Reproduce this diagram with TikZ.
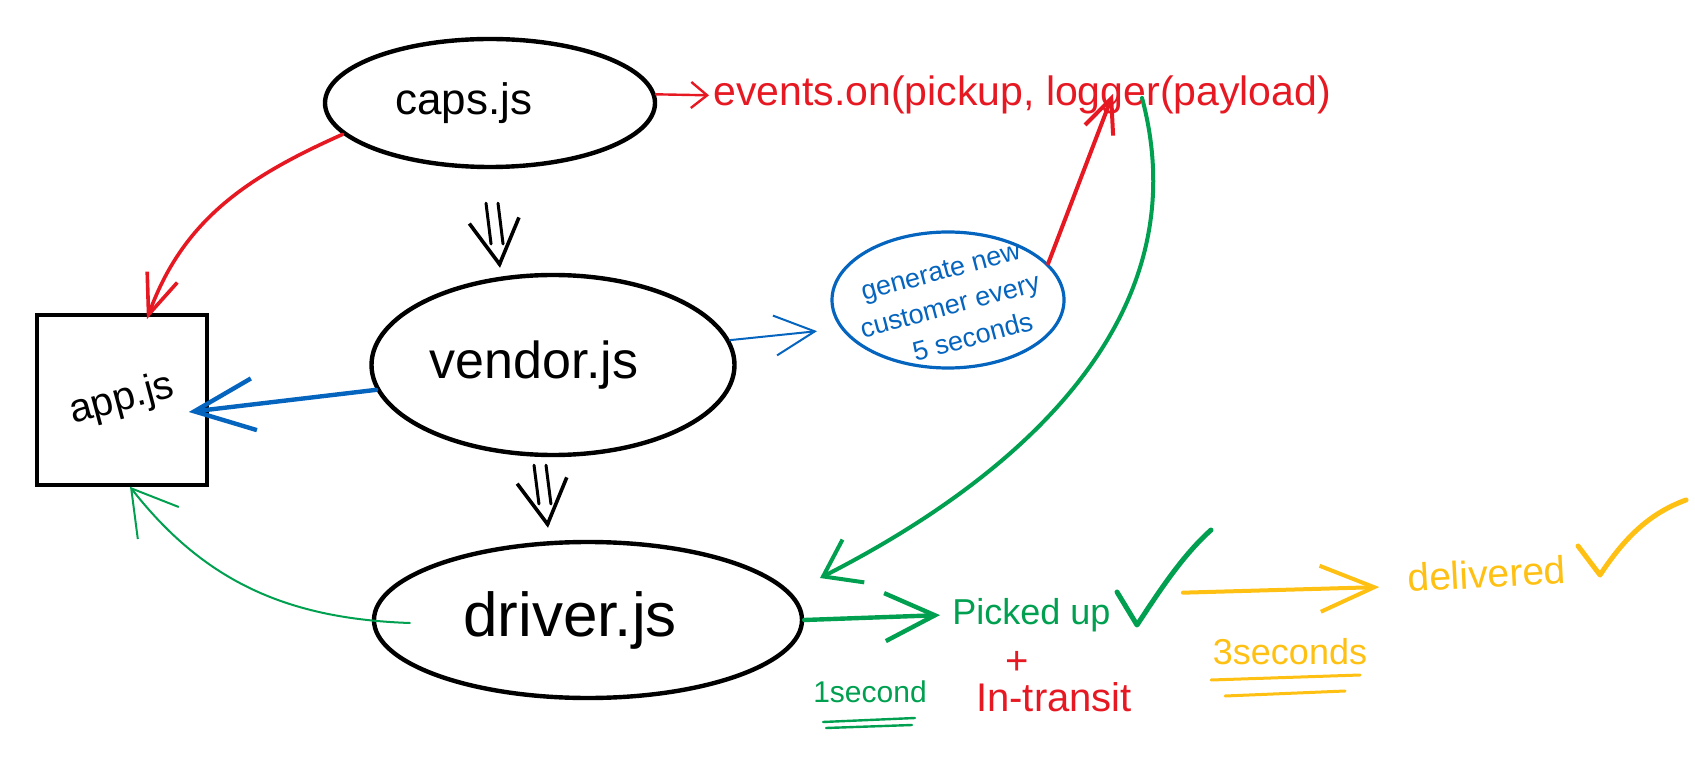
\documentclass[tikz,border=0pt]{standalone}
\usepackage{fontspec}
\setmainfont{Liberation Sans}
\usetikzlibrary{shapes.geometric,arrows.meta,calc}
\definecolor{hred}{RGB}{230,25,35}
\definecolor{hblue}{RGB}{5,100,190}
\definecolor{hgreen}{RGB}{0,160,80}
\definecolor{hyellow}{RGB}{255,192,20}
\begin{document}
\begin{tikzpicture}[x=0.5pt,y=-0.5pt,
  every node/.style={inner sep=0pt},
  proc/.style={ellipse, draw=black, line width=2.2pt, inner sep=0pt},
  pen/.style={line cap=round, line join=round},
  shaft/.style={pen, black, line width=1.5pt, shorten >=12pt},
  headonly/.style={pen, black, line width=1.8pt, -{Straight Barb[length=22pt,width=25pt]}},
]
\useasboundingbox (0,0) rectangle (1695,769);

\node[proc, minimum width=165pt, minimum height=64pt, font=\fontsize{22}{26}\selectfont] (caps) at (490,103) {caps.js\hspace*{26pt}};
\node[proc, minimum width=181.5pt, minimum height=90pt, font=\fontsize{26}{30}\selectfont] (vendor) at (553,365) {vendor.js\hspace*{19pt}};
\node[proc, minimum width=214pt, minimum height=78pt, font=\fontsize{31}{35}\selectfont] (driver) at (588,620) {driver.js\hspace*{18pt}};
\node[draw=black, line width=1.8pt, minimum size=85pt, font=\fontsize{20}{24}\selectfont] (app) at (122,400) {\rotatebox{15}{app.js}};
\node[ellipse, draw=hblue, line width=1.6pt, minimum width=116pt, minimum height=68pt] (blue) at (948,300) {};
\node[text=hblue, font=\fontsize{13.5}{18}\selectfont, align=center, rotate=15] (bluetext) at (950,306) {generate new\\customer every\\\hspace*{14pt}5 seconds};

\node[text=hred, font=\fontsize{20.5}{24}\selectfont, anchor=base west] (events) at (713,106) {events.on(pickup, logger(payload)};
\node[text=hgreen, font=\fontsize{18}{22}\selectfont, anchor=base west] (picked) at (952,624) {Picked up};
\node[text=hred, font=\fontsize{20}{24}\selectfont] (plus) at (1017,663) {+};
\node[text=hred, font=\fontsize{20}{24}\selectfont] (transit) at (1054,697) {In-transit};
\node[text=hgreen, font=\fontsize{15}{18}\selectfont] (onesec) at (870,692) {1second};
\node[text=hyellow, font=\fontsize{18}{20}\selectfont] (threesec) at (1290,652) {3seconds};
\node[text=hyellow, font=\fontsize{19.5}{22}\selectfont, anchor=base west, rotate=3] (delivered) at (1408,592) {delivered};

% connectors
\draw[pen, hred, line width=1.8pt, -{Straight Barb[length=20pt,width=16pt]}] (caps.192) to[out=204,in=70] ([yshift=-3pt]app.74);
\draw[pen, hblue, line width=2.2pt, -{Straight Barb[length=30pt,width=26pt]}] (vendor.188) -- ([xshift=-10pt,yshift=-6pt]app.east);
\draw[pen, hgreen, line width=1pt, -{Straight Barb[length=22pt,width=26pt]}] ([xshift=19pt,yshift=-1.5pt]driver.west) to[out=178,in=-52] ([xshift=4pt]app.south);

\coordinate (d1s) at ([xshift=1pt,yshift=-17pt]caps.south);
\coordinate (d1e) at ([xshift=-26.5pt,yshift=2.5pt]vendor.north);
\draw[shaft] ([xshift=-3pt]d1s) -- ([xshift=-3pt]d1e);
\draw[shaft] ([xshift=3pt]d1s) -- ([xshift=3pt]d1e);
\draw[headonly] ($(d1s)!0.95!(d1e)$) -- (d1e);

\coordinate (d2s) at ([xshift=-6.5pt,yshift=-4pt]vendor.south);
\coordinate (d2e) at ([xshift=-20pt,yshift=6pt]driver.north);
\draw[shaft] ([xshift=-3pt]d2s) -- ([xshift=-3pt]d2e);
\draw[shaft] ([xshift=3pt]d2s) -- ([xshift=3pt]d2e);
\draw[headonly] ($(d2s)!0.95!(d2e)$) -- (d2e);

\draw[pen, hred, line width=1.2pt, shorten >=2pt, -{Straight Barb[length=8pt,width=13pt]}] (caps.3) -- (events.west);
\draw[pen, hblue, line width=1pt, shorten >=12pt, -{Straight Barb[length=20pt,width=20pt]}] (vendor.8) -- (blue.195);
\draw[pen, hred, line width=2pt, -{Straight Barb[length=17pt,width=15pt]}] (blue.20) -- ([xshift=200pt,yshift=10.5pt]events.south west);
\coordinate (gs) at ([xshift=214.5pt,yshift=8.5pt]events.south west);
\draw[pen, hgreen, line width=2pt, -{Straight Barb[length=17pt,width=24pt]}] (gs) to[out=-75,in=27] ([shift={(116pt,21pt)}]driver.center);
\draw[pen, hgreen, line width=2.2pt, shorten >=6pt, -{Straight Barb[length=25pt,width=24pt]}] (driver.east) -- (picked.west);
\draw[pen, hyellow, line width=2pt, -{Straight Barb[length=27pt,width=23pt]}] ([xshift=36pt,yshift=11pt]picked.east) -- ([xshift=-14pt,yshift=-4.5pt]delivered.west);

% underlines and check marks
\draw[pen, hgreen, line width=1.2pt] (823,722) -- (915,718);
\draw[pen, hgreen, line width=1.2pt] (826,728) -- (912,725);
\draw[pen, hyellow, line width=1.5pt] (1211,680) -- (1360,675);
\draw[pen, hyellow, line width=1.5pt] (1225,696) -- (1345,691);
\draw[pen, hgreen, line width=2.5pt] (1117,592) -- (1137,625) .. controls (1160,590) and (1183,555) .. (1211,530);
\draw[pen, hyellow, line width=2.5pt] (1578,546) -- (1600,575) .. controls (1625,537) and (1650,513) .. (1686,500);
\end{tikzpicture}
\end{document}
